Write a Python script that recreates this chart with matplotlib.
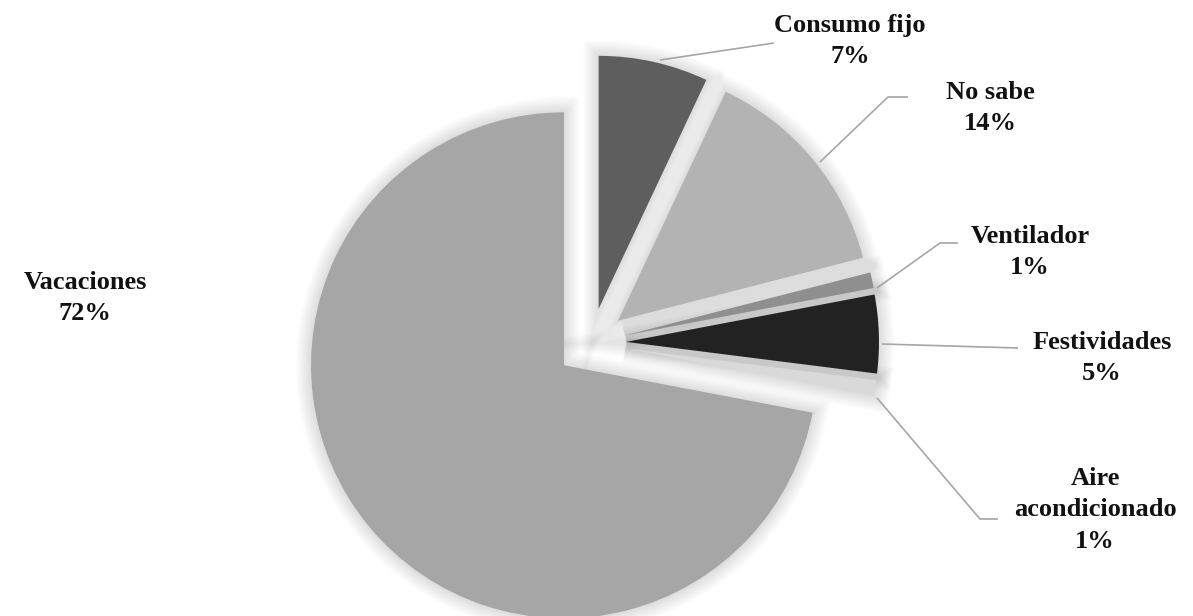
import matplotlib
matplotlib.use("Agg")
import matplotlib.pyplot as plt
import matplotlib.patheffects as pe

categories = ["Consumo fijo", "No sabe", "Ventilador", "Festividades",
              "Aire acondicionado", "Vacaciones"]
values = [7, 14, 1, 5, 1, 72]
label_texts = ["Consumo fijo\n7%", "No sabe\n14%", "Ventilador\n1%",
               "Festividades\n5%", "Aire\nacondicionado\n1%", "Vacaciones\n72%"]
colors = ["#5e5e5e", "#b3b3b3", "#8f8f8f", "#222222", "#d9d9d9", "#a6a6a6"]

W, H = 1193, 616
fig = plt.figure(figsize=(W / 100, H / 100), dpi=100)
ax = fig.add_axes([0, 0, 1, 1])

center = (591, H - 343)
radius = 253
# explode offsets are in data units here (pixels)
explode = [35] * len(values)

# soft halo underneath the slices, built from many faint strokes
shadow, _ = ax.pie(values, explode=explode, startangle=90, counterclock=False,
                   center=center, radius=radius, colors=["white"] * len(values),
                   wedgeprops=dict(linewidth=0))
halo = [pe.Stroke(linewidth=lw, foreground="#000000", alpha=0.011)
        for lw in range(22, 0, -2)]
for w in shadow:
    w.set_path_effects(halo)

wedges, _ = ax.pie(values, explode=explode, startangle=90, counterclock=False,
                   center=center, radius=radius, colors=colors,
                   wedgeprops=dict(linewidth=0))

# label anchors and leader lines (figure pixel coordinates, y from top)
label_pos = [(850, 41), (990, 108), (1030, 252), (1102, 358), (1095, 510), (85, 298)]
leaders = [
    [(660, 60), (774, 43)],
    [(820, 162), (888, 97), (908, 97)],
    [(877, 288), (940, 243), (958, 243)],
    [(882, 344), (1018, 348)],
    [(877, 398), (980, 519), (998, 519)],
    None,
]

font = dict(family="Liberation Serif", fontweight="bold", fontsize=19)
for txt, (x, y), ld in zip(label_texts, label_pos, leaders):
    ax.text(x, H - y, txt, ha="center", va="center", linespacing=1.45,
            color="#111111", **font)
    if ld:
        xs = [p[0] for p in ld]
        ys = [H - p[1] for p in ld]
        ax.plot(xs, ys, color="#a6a6a6", linewidth=1.2, solid_capstyle="butt")

ax.set_xlim(0, W)
ax.set_ylim(0, H)
ax.set_aspect("equal", adjustable="box")
ax.axis("off")

fig.savefig("out.png", dpi=100, facecolor="white")
